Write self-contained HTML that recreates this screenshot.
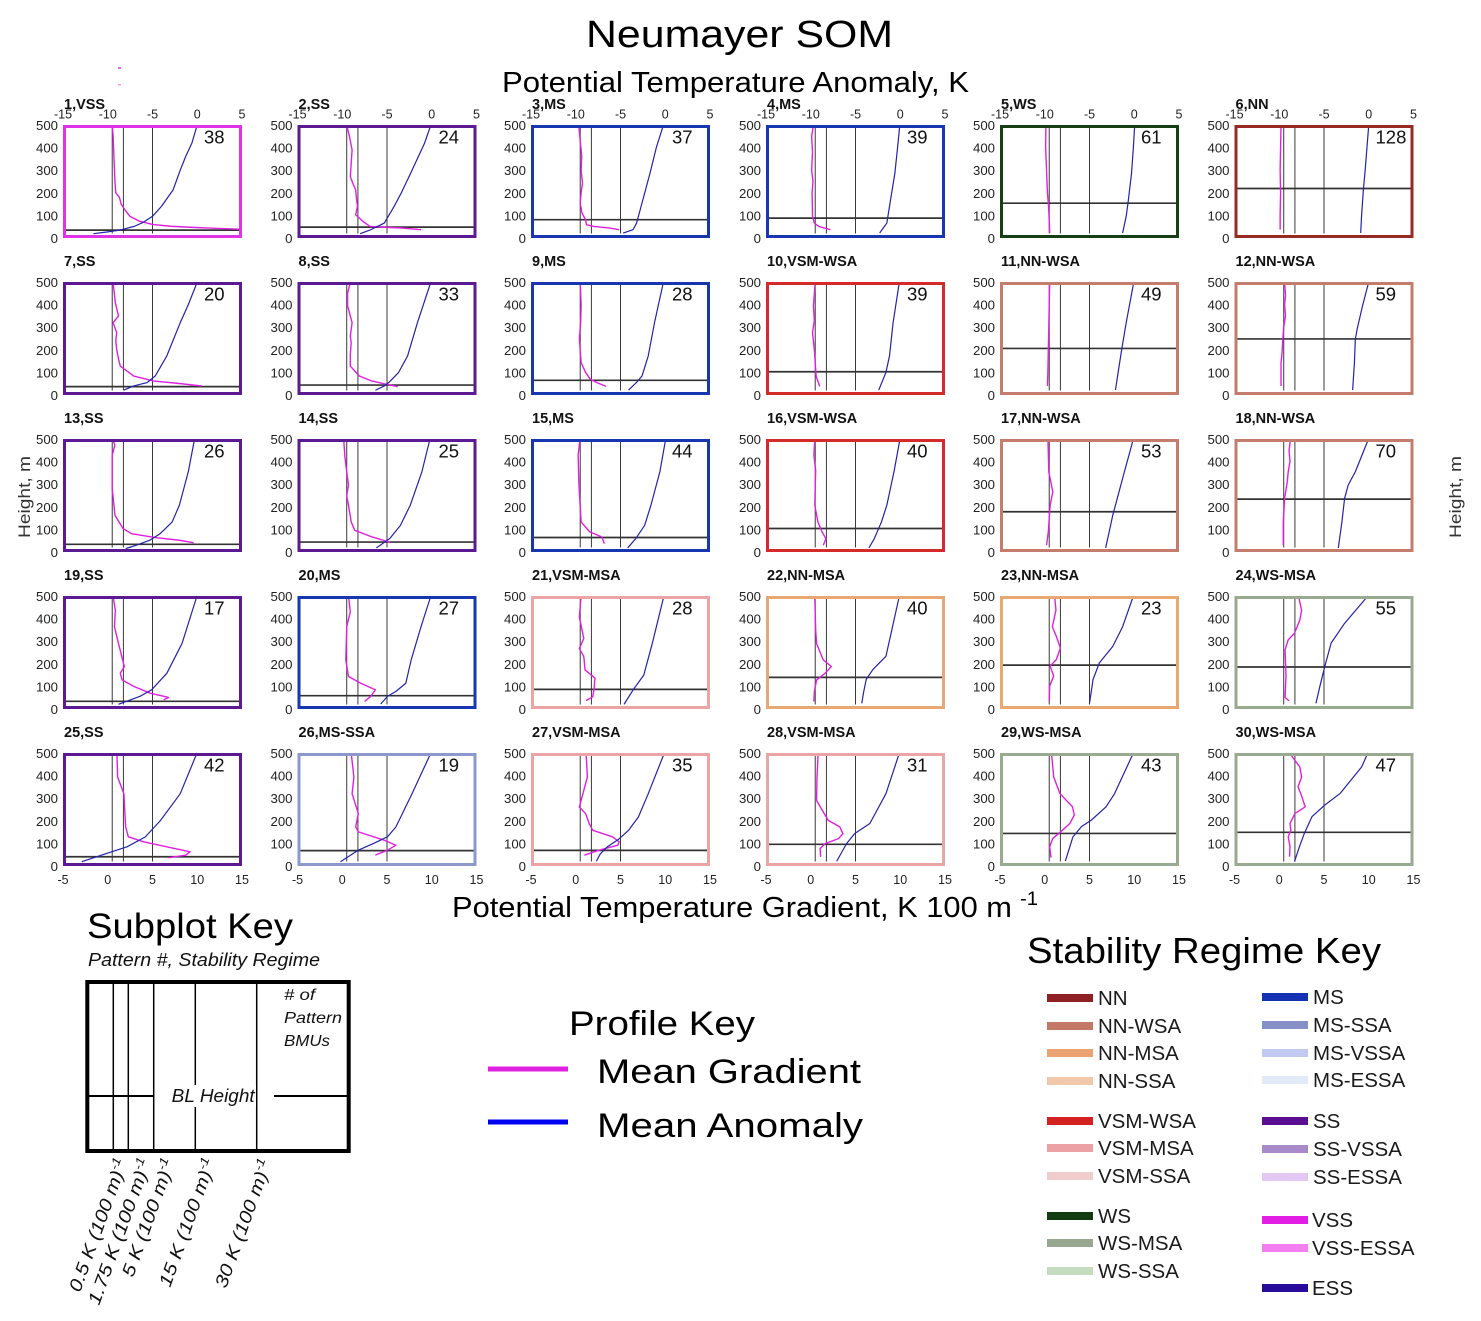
<!DOCTYPE html>
<html><head><meta charset="utf-8"><title>Neumayer SOM</title>
<style>
html,body{margin:0;padding:0;background:#fff}
svg{display:block}
text{font-family:"Liberation Sans",sans-serif}
.r{stroke:#3a3a3a;stroke-width:1;fill:none;vector-effect:non-scaling-stroke}
.k{stroke:#333;stroke-width:1.7;fill:none;vector-effect:non-scaling-stroke}
.m{stroke:#e020e0;stroke-width:1.4;fill:none;stroke-linejoin:round;vector-effect:non-scaling-stroke}
.b{stroke:#2323aa;stroke-width:1.2;fill:none;stroke-linejoin:round;vector-effect:non-scaling-stroke}
.f{fill:none;stroke-width:3}
.yt{font-size:13.2px;fill:#222;text-anchor:end}
.xt{font-size:12.5px;fill:#222;text-anchor:middle}
.t{font-size:14.5px;font-weight:bold;fill:#111}
.n{font-size:18.5px;fill:#111}
.lg{font-size:20.5px;fill:#1a1a1a}
.it{font-style:italic;fill:#111}
</style></head>
<body>
<svg width="1481" height="1321" viewBox="0 0 1481 1321" xmlns="http://www.w3.org/2000/svg">
<rect width="1481" height="1321" fill="#fff"/>

<!-- Titles -->
<text x="586" y="47" font-size="38" textLength="307" lengthAdjust="spacingAndGlyphs" fill="#000">Neumayer SOM</text>
<text x="502" y="92" font-size="29" textLength="467" lengthAdjust="spacingAndGlyphs" fill="#000">Potential Temperature Anomaly, K</text>
<rect x="118" y="67" width="3" height="2" fill="#e070e8"/>
<rect x="118" y="84" width="3" height="1.5" fill="#e9a0ee"/>

<text transform="translate(30,497) rotate(-90)" text-anchor="middle" font-size="17" fill="#333" textLength="82" lengthAdjust="spacingAndGlyphs">Height, m</text>
<text transform="translate(1461,497) rotate(-90)" text-anchor="middle" font-size="17" fill="#333" textLength="82" lengthAdjust="spacingAndGlyphs">Height, m</text>

<!-- ===== Row 0 ===== -->
<g transform="matrix(8.95 0 0 -.226 107.75 238)"><path class="r" d="M.5 20V500M1.75 20V500M5 20V500"/><path class="k" d="M-5 35H15"/>
<polyline class="m" points="0.5,500 0.6,450 0.7,350 0.8,250 0.9,200 1.3,180 1.5,150 2,120 2.5,95 3.5,75 5,60 7,52 9.5,47 12,43 14.7,39"/>
<polyline class="b" points="10,500 9.4,420 8.7,360 8.1,300 7.3,213 6,140 5,96 4,70 3,52 1.5,36 0,27 -1.6,19"/></g>
<rect class="f" x="64.5" y="126.5" width="176" height="110" stroke="#e032e6"/>

<g transform="matrix(8.95 0 0 -.226 342.25 238)"><path class="r" d="M.5 20V500M1.75 20V500M5 20V500"/><path class="k" d="M-5 48H15"/>
<polyline class="m" points="0.5,500 0.8,450 1.1,390 1.0,330 0.9,272 1.2,240 1.5,213 1.6,170 1.7,140 1.5,103 2.3,74 3.1,51 5,47 6.7,44 8.8,37"/>
<polyline class="b" points="9.9,500 9.2,420 8.5,360 7.65,287 6.6,200 5.8,140 4.7,66 3.2,37 2.0,19"/></g>
<rect class="f" x="299" y="126.5" width="176" height="110" stroke="#5b1a94"/>

<g transform="matrix(8.95 0 0 -.226 575.75 238)"><path class="r" d="M.5 20V500M1.75 20V500M5 20V500"/><path class="k" d="M-5 81H15"/>
<polyline class="m" points="0.33,500 0.5,430 0.67,360 0.6,300 0.75,243 0.6,200 0.5,154 0.7,110 1.1,81 1.2,59 2.0,51 3.8,44 4.85,37"/>
<polyline class="b" points="9.8,500 9,400 8.3,287 7.3,140 6.8,66 6.4,37 5.3,22"/></g>
<rect class="f" x="532.5" y="126.5" width="176" height="110" stroke="#1836b2"/>

<g transform="matrix(8.95 0 0 -.226 810.75 238)"><path class="r" d="M.5 20V500M1.75 20V500M5 20V500"/><path class="k" d="M-5 88H15"/>
<polyline class="m" points="0.3,500 0.1,450 0.2,380 0.1,300 0.25,250 0.15,200 0.2,96 0.4,66 0.9,51 2.2,37"/>
<polyline class="b" points="9.95,500 9.7,400 9.4,287 8.8,140 8.5,66 7.7,22"/></g>
<rect class="f" x="767.5" y="126.5" width="176" height="110" stroke="#1836b2"/>

<g transform="matrix(8.95 0 0 -.226 1044.75 238)"><path class="r" d="M.5 20V500M1.75 20V500M5 20V500"/><path class="k" d="M-5 154H15"/>
<polyline class="m" points="0.13,500 0.1,400 0.2,300 0.3,200 0.4,154 0.5,80 0.55,22"/>
<polyline class="b" points="10.05,500 9.9,400 9.7,287 9.3,154 9.1,96 8.7,22"/></g>
<rect class="f" x="1001.5" y="126.5" width="176" height="110" stroke="#173f16"/>

<g transform="matrix(8.95 0 0 -.226 1279.25 238)"><path class="r" d="M.5 20V500M1.75 20V500M5 20V500"/><path class="k" d="M-5 219H15"/>
<polyline class="m" points="0.2,500 0.15,400 0.1,300 0.15,200 0.1,100 0.1,37"/>
<polyline class="b" points="10,500 9.8,400 9.6,300 9.4,213 9.2,100 9.1,22"/></g>
<rect class="f" x="1236" y="126.5" width="176" height="110" stroke="#982a24"/>

<!-- ===== Row 1 ===== -->
<g transform="matrix(8.95 0 0 -.226 107.75 395)"><path class="r" d="M.5 20V500M1.75 20V500M5 20V500"/><path class="k" d="M-5 37H15"/>
<polyline class="m" points="0.59,500 0.85,408 1.2,350 0.6,320 1.0,276 0.9,240 1.0,202 1.2,160 1.4,128 2.9,84 5.1,62 7.7,52 10.5,40"/>
<polyline class="b" points="10,500 9,400 8.1,320 6.6,173 5.3,84 4.4,55 2.9,40 1.8,22"/></g>
<rect class="f" x="64.5" y="283.5" width="176" height="110" stroke="#5b1a94"/>

<g transform="matrix(8.95 0 0 -.226 342.25 395)"><path class="r" d="M.5 20V500M1.75 20V500M5 20V500"/><path class="k" d="M-5 44H15"/>
<polyline class="m" points="0.9,500 0.6,450 0.6,394 1.1,320 0.9,260 1.0,232 0.9,180 0.9,128 1.9,84 3.3,62 5.0,47 6.2,37"/>
<polyline class="b" points="9.9,500 8.4,320 7.3,173 6.3,100 5.2,55 4.7,40 3.7,21"/></g>
<rect class="f" x="299" y="283.5" width="176" height="110" stroke="#5b1a94"/>

<g transform="matrix(8.95 0 0 -.226 575.75 395)"><path class="r" d="M.5 20V500M1.75 20V500M5 20V500"/><path class="k" d="M-5 65H15"/>
<polyline class="m" points="0.5,500 0.6,400 0.55,320 0.4,250 0.6,143 1.1,100 1.6,71 2.3,56 3.4,38"/>
<polyline class="b" points="9.8,500 8.8,320 8.1,173 7.4,84 6.8,56 5.9,22"/></g>
<rect class="f" x="532.5" y="283.5" width="176" height="110" stroke="#1836b2"/>

<g transform="matrix(8.95 0 0 -.226 810.75 395)"><path class="r" d="M.5 20V500M1.75 20V500M5 20V500"/><path class="k" d="M-5 103H15"/>
<polyline class="m" points="0.5,500 0.3,394 0.4,330 0.2,276 0.4,200 0.45,173 0.6,84 1.0,38"/>
<polyline class="b" points="9.9,500 9.2,320 8.8,173 8.4,100 7.6,22"/></g>
<rect class="f" x="767.5" y="283.5" width="176" height="110" stroke="#d42a2a"/>

<g transform="matrix(8.95 0 0 -.226 1044.75 395)"><path class="r" d="M.5 20V500M1.75 20V500M5 20V500"/><path class="k" d="M-5 206H15"/>
<polyline class="m" points="0.55,500 0.5,400 0.45,300 0.4,200 0.35,100 0.3,40"/>
<polyline class="b" points="9.95,500 9.1,320 8.6,202 8.2,100 7.9,22"/></g>
<rect class="f" x="1001.5" y="283.5" width="176" height="110" stroke="#c47c6c"/>

<g transform="matrix(8.95 0 0 -.226 1279.25 395)"><path class="r" d="M.5 20V500M1.75 20V500M5 20V500"/><path class="k" d="M-5 248H15"/>
<polyline class="m" points="0.6,500 0.7,440 0.6,400 0.7,350 0.5,300 0.4,247 0.3,180 0.2,143 0.2,40"/>
<polyline class="b" points="10,500 9.3,394 8.7,291 8.5,247 8.4,143 8.2,22"/></g>
<rect class="f" x="1236" y="283.5" width="176" height="110" stroke="#c47c6c"/>

<!-- ===== Row 2 ===== -->
<g transform="matrix(8.95 0 0 -.226 107.75 552)"><path class="r" d="M.5 20V500M1.75 20V500M5 20V500"/><path class="k" d="M-5 34H15"/>
<polyline class="m" points="0.53,500 0.8,473 0.5,429 0.5,281 0.8,163 1.7,104 2.66,81 5.3,64 8,52 9.6,41"/>
<polyline class="b" points="9.7,500 9.0,355 8,207 7.2,133 5.85,81 4.7,52 3.2,30 2.0,15"/></g>
<rect class="f" x="64.5" y="440.5" width="176" height="110" stroke="#5b1a94"/>

<g transform="matrix(8.95 0 0 -.226 342.25 552)"><path class="r" d="M.5 20V500M1.75 20V500M5 20V500"/><path class="k" d="M-5 44H15"/>
<polyline class="m" points="0.16,500 0.3,420 0.5,355 0.7,296 0.5,250 0.7,207 1.0,133 1.4,96 3.3,67 4.6,52 5.4,41"/>
<polyline class="b" points="9.8,500 8.9,355 7.6,207 6.5,118 5.3,59 3.8,18"/></g>
<rect class="f" x="299" y="440.5" width="176" height="110" stroke="#5b1a94"/>

<g transform="matrix(8.95 0 0 -.226 575.75 552)"><path class="r" d="M.5 20V500M1.75 20V500M5 20V500"/><path class="k" d="M-5 64H15"/>
<polyline class="m" points="0.48,500 0.27,429 0.35,300 0.6,133 1.56,89 2.9,67 3.2,37"/>
<polyline class="b" points="10.05,500 9.4,355 8.4,207 7.7,118 6.7,59 5.8,18"/></g>
<rect class="f" x="532.5" y="440.5" width="176" height="110" stroke="#1836b2"/>

<g transform="matrix(8.95 0 0 -.226 810.75 552)"><path class="r" d="M.5 20V500M1.75 20V500M5 20V500"/><path class="k" d="M-5 104H15"/>
<polyline class="m" points="0.45,500 0.35,429 0.55,360 0.45,207 0.8,133 1.26,89 1.7,59 1.4,30"/>
<polyline class="b" points="9.97,500 9.3,355 8.5,207 7.9,133 7.1,59 6.5,18"/></g>
<rect class="f" x="767.5" y="440.5" width="176" height="110" stroke="#d42a2a"/>

<g transform="matrix(8.95 0 0 -.226 1044.75 552)"><path class="r" d="M.5 20V500M1.75 20V500M5 20V500"/><path class="k" d="M-5 178H15"/>
<polyline class="m" points="0.36,500 0.45,355 0.9,266 0.6,207 0.4,90 0.2,30"/>
<polyline class="b" points="9.9,500 8.9,355 8.1,237 7.6,163 7.2,89 6.8,18"/></g>
<rect class="f" x="1001.5" y="440.5" width="176" height="110" stroke="#c47c6c"/>

<g transform="matrix(8.95 0 0 -.226 1279.25 552)"><path class="r" d="M.5 20V500M1.75 20V500M5 20V500"/><path class="k" d="M-5 234H15"/>
<polyline class="m" points="1.26,500 1.1,450 1.2,400 1.0,355 0.9,311 0.6,237 0.45,133 0.45,30"/>
<polyline class="b" points="9.97,500 8.5,355 7.7,296 7.3,237 7.0,133 6.6,18"/></g>
<rect class="f" x="1236" y="440.5" width="176" height="110" stroke="#c47c6c"/>

<!-- ===== Row 3 ===== -->
<g transform="matrix(8.95 0 0 -.226 107.75 709)"><path class="r" d="M.5 20V500M1.75 20V500M5 20V500"/><path class="k" d="M-5 34H15"/>
<polyline class="m" points="0.59,500 0.85,437 0.75,364 1.2,290 1.85,188 1.4,158 1.6,129 2.9,100 4.75,70 6.8,51 6.25,41"/>
<polyline class="b" points="9.97,500 8.3,290 6.6,158 4.9,85 3.6,56 1.2,21"/></g>
<rect class="f" x="64.5" y="597.5" width="176" height="110" stroke="#5b1a94"/>

<g transform="matrix(8.95 0 0 -.226 342.25 709)"><path class="r" d="M.5 20V500M1.75 20V500M5 20V500"/><path class="k" d="M-5 59H15"/>
<polyline class="m" points="0.7,500 0.9,430 0.5,364 0.4,217 0.7,144 2.06,114 3.7,85 3.2,56 2.5,34"/>
<polyline class="b" points="9.9,500 8.8,364 7.7,217 7.1,114 6.0,78 5.05,56 4.3,22"/></g>
<rect class="f" x="299" y="597.5" width="176" height="110" stroke="#1836b2"/>

<g transform="matrix(8.95 0 0 -.226 575.75 709)"><path class="r" d="M.5 20V500M1.75 20V500M5 20V500"/><path class="k" d="M-5 87H15"/>
<polyline class="m" points="0.6,500 0.4,407 0.9,312 0.4,268 0.9,232 1.04,173 2.15,137 2.05,91 1.9,54 1.15,37"/>
<polyline class="b" points="9.85,500 8.55,290 7.6,150 6.4,84 5.4,21"/></g>
<rect class="f" x="532.5" y="597.5" width="176" height="110" stroke="#eca4a4"/>

<g transform="matrix(8.95 0 0 -.226 810.75 709)"><path class="r" d="M.5 20V500M1.75 20V500M5 20V500"/><path class="k" d="M-5 140H15"/>
<polyline class="m" points="0.45,500 0.55,350 0.65,290 1.4,217 2.3,188 1.6,158 0.65,128 0.4,77 0.35,33"/>
<polyline class="b" points="9.9,500 8.4,233 6.95,175 6.2,131 5.9,73 5.7,25"/></g>
<rect class="f" x="767.5" y="597.5" width="176" height="110" stroke="#e9a872"/>

<g transform="matrix(8.95 0 0 -.226 1044.75 709)"><path class="r" d="M.5 20V500M1.75 20V500M5 20V500"/><path class="k" d="M-5 194H15"/>
<polyline class="m" points="1.1,500 1.25,437 0.85,364 1.3,321 1.75,270 1.3,219 0.6,190 1.0,146 0.55,102 0.5,36"/>
<polyline class="b" points="9.9,500 8.7,364 7.6,277 6.1,204 5.4,131 5.0,25"/></g>
<rect class="f" x="1001.5" y="597.5" width="176" height="110" stroke="#e9a872"/>

<g transform="matrix(8.95 0 0 -.226 1279.25 709)"><path class="r" d="M.5 20V500M1.75 20V500M5 20V500"/><path class="k" d="M-5 186H15"/>
<polyline class="m" points="2.15,500 2.5,437 2.3,394 1.7,335 1.0,306 0.65,262 0.75,146 0.65,51 1.1,36"/>
<polyline class="b" points="9.9,500 7.3,379 5.8,292 5.1,190 4.55,102 4.1,25"/></g>
<rect class="f" x="1236" y="597.5" width="176" height="110" stroke="#98aa90"/>

<!-- ===== Row 4 ===== -->
<g transform="matrix(8.95 0 0 -.226 107.75 866)"><path class="r" d="M.5 20V500M1.75 20V500M5 20V500"/><path class="k" d="M-5 41H15"/>
<polyline class="m" points="1.03,500 1.1,394 1.8,320 2.0,173 2.3,129 4.0,107 6.6,85 9.2,63 8.7,48 6.8,37"/>
<polyline class="b" points="9.97,500 8.1,320 5.9,202 4.2,129 2.15,85 -0.08,56 -2.9,19"/></g>
<rect class="f" x="64.5" y="754.5" width="176" height="110" stroke="#5b1a94"/>

<g transform="matrix(8.95 0 0 -.226 342.25 866)"><path class="r" d="M.5 20V500M1.75 20V500M5 20V500"/><path class="k" d="M-5 68H15"/>
<polyline class="m" points="1.0,500 1.3,394 1.1,320 1.8,232 1.5,173 1.8,151 4.7,114 6.0,92 5.05,70 3.7,48"/>
<polyline class="b" points="9.9,500 7.8,320 6.0,173 5.05,129 3.5,100 1.8,70 -0.2,19"/></g>
<rect class="f" x="299" y="754.5" width="176" height="110" stroke="#8c98cc"/>

<g transform="matrix(8.95 0 0 -.226 575.75 866)"><path class="r" d="M.5 20V500M1.75 20V500M5 20V500"/><path class="k" d="M-5 69H15"/>
<polyline class="m" points="1.15,500 1.3,394 0.8,320 0.4,261 1.1,232 1.5,188 1.9,158 4.1,129 4.85,107 4.7,92 2.6,70 0.96,48"/>
<polyline class="b" points="9.9,500 8.1,320 7.0,217 5.9,158 4.75,117 3.5,84 2.75,54 2.3,21"/></g>
<rect class="f" x="532.5" y="754.5" width="176" height="110" stroke="#eca4a4"/>

<g transform="matrix(8.95 0 0 -.226 810.75 866)"><path class="r" d="M.5 20V500M1.75 20V500M5 20V500"/><path class="k" d="M-5 96H15"/>
<polyline class="m" points="0.83,500 0.7,394 0.65,290 1.95,202 3.25,173 3.6,143 3.1,121 1.6,99 1.05,77 1.1,40"/>
<polyline class="b" points="9.9,500 8.4,320 6.6,188 4.9,143 4.0,99 2.9,21"/></g>
<rect class="f" x="767.5" y="754.5" width="176" height="110" stroke="#eca4a4"/>

<g transform="matrix(8.95 0 0 -.226 1044.75 866)"><path class="r" d="M.5 20V500M1.75 20V500M5 20V500"/><path class="k" d="M-5 144H15"/>
<polyline class="m" points="0.75,500 1.0,394 1.7,320 3.1,262 3.3,225 2.8,188 2.0,159 0.9,122 0.55,85 0.7,37"/>
<polyline class="b" points="9.9,500 7.8,320 6.85,262 5.2,203 4.1,174 3.15,129 2.8,85 2.3,22"/></g>
<rect class="f" x="1001.5" y="754.5" width="176" height="110" stroke="#98aa90"/>

<g transform="matrix(8.95 0 0 -.226 1279.25 866)"><path class="r" d="M.5 20V500M1.75 20V500M5 20V500"/><path class="k" d="M-5 149H15"/>
<polyline class="m" points="1.15,500 2.3,438 2.5,394 2.1,350 2.4,321 2.9,262 1.75,232 1.2,188 1.3,159 1.0,129 1.2,85 1.15,41"/>
<polyline class="b" points="9.9,500 9.2,438 6.8,321 5.1,270 3.65,218 2.8,144 2.25,85 1.7,19"/></g>
<rect class="f" x="1236" y="754.5" width="176" height="110" stroke="#98aa90"/>

<!-- ===== Subplot titles ===== -->
<text class="t" x="64" y="109">1,VSS</text>
<text class="t" x="298.5" y="109">2,SS</text>
<text class="t" x="532" y="109">3,MS</text>
<text class="t" x="767" y="109">4,MS</text>
<text class="t" x="1001" y="109">5,WS</text>
<text class="t" x="1235.5" y="109">6,NN</text>
<text class="t" x="64" y="266">7,SS</text>
<text class="t" x="298.5" y="266">8,SS</text>
<text class="t" x="532" y="266">9,MS</text>
<text class="t" x="767" y="266">10,VSM-WSA</text>
<text class="t" x="1001" y="266">11,NN-WSA</text>
<text class="t" x="1235.5" y="266">12,NN-WSA</text>
<text class="t" x="64" y="423">13,SS</text>
<text class="t" x="298.5" y="423">14,SS</text>
<text class="t" x="532" y="423">15,MS</text>
<text class="t" x="767" y="423">16,VSM-WSA</text>
<text class="t" x="1001" y="423">17,NN-WSA</text>
<text class="t" x="1235.5" y="423">18,NN-WSA</text>
<text class="t" x="64" y="580">19,SS</text>
<text class="t" x="298.5" y="580">20,MS</text>
<text class="t" x="532" y="580">21,VSM-MSA</text>
<text class="t" x="767" y="580">22,NN-MSA</text>
<text class="t" x="1001" y="580">23,NN-MSA</text>
<text class="t" x="1235.5" y="580">24,WS-MSA</text>
<text class="t" x="64" y="737">25,SS</text>
<text class="t" x="298.5" y="737">26,MS-SSA</text>
<text class="t" x="532" y="737">27,VSM-MSA</text>
<text class="t" x="767" y="737">28,VSM-MSA</text>
<text class="t" x="1001" y="737">29,WS-MSA</text>
<text class="t" x="1235.5" y="737">30,WS-MSA</text>

<!-- ===== Counts ===== -->
<text class="n" x="204" y="143.5">38</text>
<text class="n" x="438.5" y="143.5">24</text>
<text class="n" x="672" y="143.5">37</text>
<text class="n" x="907" y="143.5">39</text>
<text class="n" x="1141" y="143.5">61</text>
<text class="n" x="1375.5" y="143.5">128</text>
<text class="n" x="204" y="300.5">20</text>
<text class="n" x="438.5" y="300.5">33</text>
<text class="n" x="672" y="300.5">28</text>
<text class="n" x="907" y="300.5">39</text>
<text class="n" x="1141" y="300.5">49</text>
<text class="n" x="1375.5" y="300.5">59</text>
<text class="n" x="204" y="457.5">26</text>
<text class="n" x="438.5" y="457.5">25</text>
<text class="n" x="672" y="457.5">44</text>
<text class="n" x="907" y="457.5">40</text>
<text class="n" x="1141" y="457.5">53</text>
<text class="n" x="1375.5" y="457.5">70</text>
<text class="n" x="204" y="614.5">17</text>
<text class="n" x="438.5" y="614.5">27</text>
<text class="n" x="672" y="614.5">28</text>
<text class="n" x="907" y="614.5">40</text>
<text class="n" x="1141" y="614.5">23</text>
<text class="n" x="1375.5" y="614.5">55</text>
<text class="n" x="204" y="771.5">42</text>
<text class="n" x="438.5" y="771.5">19</text>
<text class="n" x="672" y="771.5">35</text>
<text class="n" x="907" y="771.5">31</text>
<text class="n" x="1141" y="771.5">43</text>
<text class="n" x="1375.5" y="771.5">47</text>

<!-- ===== Top axis ticks (row 0) ===== -->
<text class="xt"><tspan x="63" y="118.5">-15</tspan><tspan x="107.75" y="118.5">-10</tspan><tspan x="152.5" y="118.5">-5</tspan><tspan x="197.25" y="118.5">0</tspan><tspan x="242" y="118.5">5</tspan></text>
<text class="xt"><tspan x="297.5" y="118.5">-15</tspan><tspan x="342.25" y="118.5">-10</tspan><tspan x="387" y="118.5">-5</tspan><tspan x="431.75" y="118.5">0</tspan><tspan x="476.5" y="118.5">5</tspan></text>
<text class="xt"><tspan x="531" y="118.5">-15</tspan><tspan x="575.75" y="118.5">-10</tspan><tspan x="620.5" y="118.5">-5</tspan><tspan x="665.25" y="118.5">0</tspan><tspan x="710" y="118.5">5</tspan></text>
<text class="xt"><tspan x="766" y="118.5">-15</tspan><tspan x="810.75" y="118.5">-10</tspan><tspan x="855.5" y="118.5">-5</tspan><tspan x="900.25" y="118.5">0</tspan><tspan x="945" y="118.5">5</tspan></text>
<text class="xt"><tspan x="1000" y="118.5">-15</tspan><tspan x="1044.75" y="118.5">-10</tspan><tspan x="1089.5" y="118.5">-5</tspan><tspan x="1134.25" y="118.5">0</tspan><tspan x="1179" y="118.5">5</tspan></text>
<text class="xt"><tspan x="1234.5" y="118.5">-15</tspan><tspan x="1279.25" y="118.5">-10</tspan><tspan x="1324" y="118.5">-5</tspan><tspan x="1368.75" y="118.5">0</tspan><tspan x="1413.5" y="118.5">5</tspan></text>

<!-- ===== Bottom axis ticks (row 4) ===== -->
<text class="xt"><tspan x="63" y="884">-5</tspan><tspan x="107.75" y="884">0</tspan><tspan x="152.5" y="884">5</tspan><tspan x="197.25" y="884">10</tspan><tspan x="242" y="884">15</tspan></text>
<text class="xt"><tspan x="297.5" y="884">-5</tspan><tspan x="342.25" y="884">0</tspan><tspan x="387" y="884">5</tspan><tspan x="431.75" y="884">10</tspan><tspan x="476.5" y="884">15</tspan></text>
<text class="xt"><tspan x="531" y="884">-5</tspan><tspan x="575.75" y="884">0</tspan><tspan x="620.5" y="884">5</tspan><tspan x="665.25" y="884">10</tspan><tspan x="710" y="884">15</tspan></text>
<text class="xt"><tspan x="766" y="884">-5</tspan><tspan x="810.75" y="884">0</tspan><tspan x="855.5" y="884">5</tspan><tspan x="900.25" y="884">10</tspan><tspan x="945" y="884">15</tspan></text>
<text class="xt"><tspan x="1000" y="884">-5</tspan><tspan x="1044.75" y="884">0</tspan><tspan x="1089.5" y="884">5</tspan><tspan x="1134.25" y="884">10</tspan><tspan x="1179" y="884">15</tspan></text>
<text class="xt"><tspan x="1234.5" y="884">-5</tspan><tspan x="1279.25" y="884">0</tspan><tspan x="1324" y="884">5</tspan><tspan x="1368.75" y="884">10</tspan><tspan x="1413.5" y="884">15</tspan></text>

<!-- ===== Y ticks ===== -->
<text class="yt"><tspan x="58" y="130">500</tspan><tspan x="58" y="152.6">400</tspan><tspan x="58" y="175.2">300</tspan><tspan x="58" y="197.8">200</tspan><tspan x="58" y="220.4">100</tspan><tspan x="58" y="243">0</tspan></text>
<text class="yt"><tspan x="292.5" y="130">500</tspan><tspan x="292.5" y="152.6">400</tspan><tspan x="292.5" y="175.2">300</tspan><tspan x="292.5" y="197.8">200</tspan><tspan x="292.5" y="220.4">100</tspan><tspan x="292.5" y="243">0</tspan></text>
<text class="yt"><tspan x="526" y="130">500</tspan><tspan x="526" y="152.6">400</tspan><tspan x="526" y="175.2">300</tspan><tspan x="526" y="197.8">200</tspan><tspan x="526" y="220.4">100</tspan><tspan x="526" y="243">0</tspan></text>
<text class="yt"><tspan x="761" y="130">500</tspan><tspan x="761" y="152.6">400</tspan><tspan x="761" y="175.2">300</tspan><tspan x="761" y="197.8">200</tspan><tspan x="761" y="220.4">100</tspan><tspan x="761" y="243">0</tspan></text>
<text class="yt"><tspan x="995" y="130">500</tspan><tspan x="995" y="152.6">400</tspan><tspan x="995" y="175.2">300</tspan><tspan x="995" y="197.8">200</tspan><tspan x="995" y="220.4">100</tspan><tspan x="995" y="243">0</tspan></text>
<text class="yt"><tspan x="1229.5" y="130">500</tspan><tspan x="1229.5" y="152.6">400</tspan><tspan x="1229.5" y="175.2">300</tspan><tspan x="1229.5" y="197.8">200</tspan><tspan x="1229.5" y="220.4">100</tspan><tspan x="1229.5" y="243">0</tspan></text>

<text class="yt"><tspan x="58" y="287">500</tspan><tspan x="58" y="309.6">400</tspan><tspan x="58" y="332.2">300</tspan><tspan x="58" y="354.8">200</tspan><tspan x="58" y="377.4">100</tspan><tspan x="58" y="400">0</tspan></text>
<text class="yt"><tspan x="292.5" y="287">500</tspan><tspan x="292.5" y="309.6">400</tspan><tspan x="292.5" y="332.2">300</tspan><tspan x="292.5" y="354.8">200</tspan><tspan x="292.5" y="377.4">100</tspan><tspan x="292.5" y="400">0</tspan></text>
<text class="yt"><tspan x="526" y="287">500</tspan><tspan x="526" y="309.6">400</tspan><tspan x="526" y="332.2">300</tspan><tspan x="526" y="354.8">200</tspan><tspan x="526" y="377.4">100</tspan><tspan x="526" y="400">0</tspan></text>
<text class="yt"><tspan x="761" y="287">500</tspan><tspan x="761" y="309.6">400</tspan><tspan x="761" y="332.2">300</tspan><tspan x="761" y="354.8">200</tspan><tspan x="761" y="377.4">100</tspan><tspan x="761" y="400">0</tspan></text>
<text class="yt"><tspan x="995" y="287">500</tspan><tspan x="995" y="309.6">400</tspan><tspan x="995" y="332.2">300</tspan><tspan x="995" y="354.8">200</tspan><tspan x="995" y="377.4">100</tspan><tspan x="995" y="400">0</tspan></text>
<text class="yt"><tspan x="1229.5" y="287">500</tspan><tspan x="1229.5" y="309.6">400</tspan><tspan x="1229.5" y="332.2">300</tspan><tspan x="1229.5" y="354.8">200</tspan><tspan x="1229.5" y="377.4">100</tspan><tspan x="1229.5" y="400">0</tspan></text>

<text class="yt"><tspan x="58" y="444">500</tspan><tspan x="58" y="466.6">400</tspan><tspan x="58" y="489.2">300</tspan><tspan x="58" y="511.8">200</tspan><tspan x="58" y="534.4">100</tspan><tspan x="58" y="557">0</tspan></text>
<text class="yt"><tspan x="292.5" y="444">500</tspan><tspan x="292.5" y="466.6">400</tspan><tspan x="292.5" y="489.2">300</tspan><tspan x="292.5" y="511.8">200</tspan><tspan x="292.5" y="534.4">100</tspan><tspan x="292.5" y="557">0</tspan></text>
<text class="yt"><tspan x="526" y="444">500</tspan><tspan x="526" y="466.6">400</tspan><tspan x="526" y="489.2">300</tspan><tspan x="526" y="511.8">200</tspan><tspan x="526" y="534.4">100</tspan><tspan x="526" y="557">0</tspan></text>
<text class="yt"><tspan x="761" y="444">500</tspan><tspan x="761" y="466.6">400</tspan><tspan x="761" y="489.2">300</tspan><tspan x="761" y="511.8">200</tspan><tspan x="761" y="534.4">100</tspan><tspan x="761" y="557">0</tspan></text>
<text class="yt"><tspan x="995" y="444">500</tspan><tspan x="995" y="466.6">400</tspan><tspan x="995" y="489.2">300</tspan><tspan x="995" y="511.8">200</tspan><tspan x="995" y="534.4">100</tspan><tspan x="995" y="557">0</tspan></text>
<text class="yt"><tspan x="1229.5" y="444">500</tspan><tspan x="1229.5" y="466.6">400</tspan><tspan x="1229.5" y="489.2">300</tspan><tspan x="1229.5" y="511.8">200</tspan><tspan x="1229.5" y="534.4">100</tspan><tspan x="1229.5" y="557">0</tspan></text>

<text class="yt"><tspan x="58" y="601">500</tspan><tspan x="58" y="623.6">400</tspan><tspan x="58" y="646.2">300</tspan><tspan x="58" y="668.8">200</tspan><tspan x="58" y="691.4">100</tspan><tspan x="58" y="714">0</tspan></text>
<text class="yt"><tspan x="292.5" y="601">500</tspan><tspan x="292.5" y="623.6">400</tspan><tspan x="292.5" y="646.2">300</tspan><tspan x="292.5" y="668.8">200</tspan><tspan x="292.5" y="691.4">100</tspan><tspan x="292.5" y="714">0</tspan></text>
<text class="yt"><tspan x="526" y="601">500</tspan><tspan x="526" y="623.6">400</tspan><tspan x="526" y="646.2">300</tspan><tspan x="526" y="668.8">200</tspan><tspan x="526" y="691.4">100</tspan><tspan x="526" y="714">0</tspan></text>
<text class="yt"><tspan x="761" y="601">500</tspan><tspan x="761" y="623.6">400</tspan><tspan x="761" y="646.2">300</tspan><tspan x="761" y="668.8">200</tspan><tspan x="761" y="691.4">100</tspan><tspan x="761" y="714">0</tspan></text>
<text class="yt"><tspan x="995" y="601">500</tspan><tspan x="995" y="623.6">400</tspan><tspan x="995" y="646.2">300</tspan><tspan x="995" y="668.8">200</tspan><tspan x="995" y="691.4">100</tspan><tspan x="995" y="714">0</tspan></text>
<text class="yt"><tspan x="1229.5" y="601">500</tspan><tspan x="1229.5" y="623.6">400</tspan><tspan x="1229.5" y="646.2">300</tspan><tspan x="1229.5" y="668.8">200</tspan><tspan x="1229.5" y="691.4">100</tspan><tspan x="1229.5" y="714">0</tspan></text>

<text class="yt"><tspan x="58" y="758">500</tspan><tspan x="58" y="780.6">400</tspan><tspan x="58" y="803.2">300</tspan><tspan x="58" y="825.8">200</tspan><tspan x="58" y="848.4">100</tspan><tspan x="58" y="871">0</tspan></text>
<text class="yt"><tspan x="292.5" y="758">500</tspan><tspan x="292.5" y="780.6">400</tspan><tspan x="292.5" y="803.2">300</tspan><tspan x="292.5" y="825.8">200</tspan><tspan x="292.5" y="848.4">100</tspan><tspan x="292.5" y="871">0</tspan></text>
<text class="yt"><tspan x="526" y="758">500</tspan><tspan x="526" y="780.6">400</tspan><tspan x="526" y="803.2">300</tspan><tspan x="526" y="825.8">200</tspan><tspan x="526" y="848.4">100</tspan><tspan x="526" y="871">0</tspan></text>
<text class="yt"><tspan x="761" y="758">500</tspan><tspan x="761" y="780.6">400</tspan><tspan x="761" y="803.2">300</tspan><tspan x="761" y="825.8">200</tspan><tspan x="761" y="848.4">100</tspan><tspan x="761" y="871">0</tspan></text>
<text class="yt"><tspan x="995" y="758">500</tspan><tspan x="995" y="780.6">400</tspan><tspan x="995" y="803.2">300</tspan><tspan x="995" y="825.8">200</tspan><tspan x="995" y="848.4">100</tspan><tspan x="995" y="871">0</tspan></text>
<text class="yt"><tspan x="1229.5" y="758">500</tspan><tspan x="1229.5" y="780.6">400</tspan><tspan x="1229.5" y="803.2">300</tspan><tspan x="1229.5" y="825.8">200</tspan><tspan x="1229.5" y="848.4">100</tspan><tspan x="1229.5" y="871">0</tspan></text>

<!-- X axis title -->
<text x="452" y="917" font-size="29" textLength="560" lengthAdjust="spacingAndGlyphs" fill="#000">Potential Temperature Gradient, K 100 m</text>
<text x="1020" y="905" font-size="19" textLength="18" lengthAdjust="spacingAndGlyphs" fill="#000">-1</text>

<!-- ===== Subplot Key ===== -->
<text x="87" y="938" font-size="35" textLength="206" lengthAdjust="spacingAndGlyphs" fill="#000">Subplot Key</text>
<text class="it" x="88" y="966" font-size="18" textLength="232" lengthAdjust="spacingAndGlyphs">Pattern #, Stability Regime</text>
<rect x="87.3" y="982" width="261.4" height="169" fill="none" stroke="#000" stroke-width="4"/>
<path d="M113.3 982V1151M128.3 982V1151M153.7 982V1151M195.3 982V1151M256.7 982V1151" stroke="#000" stroke-width="1.5" fill="none"/>
<path d="M87 1096H153.7M274 1096H349" stroke="#000" stroke-width="2" fill="none"/>
<rect x="170" y="1085" width="86" height="22" fill="#fff"/>
<text class="it" x="171.7" y="1102" font-size="18" textLength="83" lengthAdjust="spacingAndGlyphs">BL Height</text>
<text class="it" x="284" y="1000" font-size="16" textLength="31" lengthAdjust="spacingAndGlyphs"># of</text>
<text class="it" x="284" y="1023" font-size="16" textLength="58" lengthAdjust="spacingAndGlyphs">Pattern</text>
<text class="it" x="284" y="1046" font-size="16" textLength="46" lengthAdjust="spacingAndGlyphs">BMUs</text>

<text class="it" transform="translate(80,1293) rotate(-70)" font-size="18" textLength="140" lengthAdjust="spacingAndGlyphs">0.5 K (100 m)<tspan dy="-7" font-size="12">-1</tspan></text>
<text class="it" transform="translate(99,1306) rotate(-70)" font-size="18" textLength="154" lengthAdjust="spacingAndGlyphs">1.75 K (100 m)<tspan dy="-7" font-size="12">-1</tspan></text>
<text class="it" transform="translate(133,1278) rotate(-70)" font-size="18" textLength="124" lengthAdjust="spacingAndGlyphs">5 K (100 m)<tspan dy="-7" font-size="12">-1</tspan></text>
<text class="it" transform="translate(170,1288) rotate(-70)" font-size="18" textLength="135" lengthAdjust="spacingAndGlyphs">15 K (100 m)<tspan dy="-7" font-size="12">-1</tspan></text>
<text class="it" transform="translate(226,1289) rotate(-70)" font-size="18" textLength="135" lengthAdjust="spacingAndGlyphs">30 K (100 m)<tspan dy="-7" font-size="12">-1</tspan></text>

<!-- ===== Profile Key ===== -->
<text x="569" y="1035" font-size="34" textLength="186" lengthAdjust="spacingAndGlyphs" fill="#000">Profile Key</text>
<path d="M488 1069H568" stroke="#e020e0" stroke-width="5"/>
<path d="M488 1122H568" stroke="#0000f0" stroke-width="5"/>
<text x="597" y="1083" font-size="34" textLength="264" lengthAdjust="spacingAndGlyphs" fill="#000">Mean Gradient</text>
<text x="597" y="1137" font-size="34" textLength="266" lengthAdjust="spacingAndGlyphs" fill="#000">Mean Anomaly</text>

<!-- ===== Stability Regime Key ===== -->
<text x="1027" y="963" font-size="36" textLength="354" lengthAdjust="spacingAndGlyphs" fill="#000">Stability Regime Key</text>

<rect x="1047" y="994" width="46" height="8" fill="#8e2026"/>
<rect x="1047" y="1022" width="46" height="8" fill="#c47868"/>
<rect x="1047" y="1049" width="46" height="8" fill="#eaa474"/>
<rect x="1047" y="1077" width="46" height="8" fill="#f2c8aa"/>
<rect x="1047" y="1117" width="46" height="8" fill="#d42222"/>
<rect x="1047" y="1144" width="46" height="8" fill="#eca2a4"/>
<rect x="1047" y="1172" width="46" height="8" fill="#f0cccc"/>
<rect x="1047" y="1212" width="46" height="8" fill="#123d10"/>
<rect x="1047" y="1239" width="46" height="8" fill="#98a890"/>
<rect x="1047" y="1267" width="46" height="8" fill="#c6dcc0"/>

<rect x="1262" y="993" width="46" height="8" fill="#1532b4"/>
<rect x="1262" y="1021" width="46" height="8" fill="#8890c8"/>
<rect x="1262" y="1049" width="46" height="8" fill="#c2caf2"/>
<rect x="1262" y="1076" width="46" height="8" fill="#e2eaf8"/>
<rect x="1262" y="1117" width="46" height="8" fill="#5a0e92"/>
<rect x="1262" y="1145" width="46" height="8" fill="#a88ac8"/>
<rect x="1262" y="1173" width="46" height="8" fill="#e2c8f2"/>
<rect x="1262" y="1216" width="46" height="8" fill="#e21ee4"/>
<rect x="1262" y="1244" width="46" height="8" fill="#f27ef0"/>
<rect x="1262" y="1284" width="46" height="8" fill="#2a0c9a"/>

<text class="lg" x="1098" y="1005">NN</text>
<text class="lg" x="1098" y="1033">NN-WSA</text>
<text class="lg" x="1098" y="1060">NN-MSA</text>
<text class="lg" x="1098" y="1088">NN-SSA</text>
<text class="lg" x="1098" y="1128">VSM-WSA</text>
<text class="lg" x="1098" y="1155">VSM-MSA</text>
<text class="lg" x="1098" y="1183">VSM-SSA</text>
<text class="lg" x="1098" y="1223">WS</text>
<text class="lg" x="1098" y="1250">WS-MSA</text>
<text class="lg" x="1098" y="1278">WS-SSA</text>

<text class="lg" x="1313" y="1004">MS</text>
<text class="lg" x="1313" y="1032">MS-SSA</text>
<text class="lg" x="1313" y="1060">MS-VSSA</text>
<text class="lg" x="1313" y="1087">MS-ESSA</text>
<text class="lg" x="1313" y="1128">SS</text>
<text class="lg" x="1313" y="1156">SS-VSSA</text>
<text class="lg" x="1313" y="1184">SS-ESSA</text>
<text class="lg" x="1312" y="1227">VSS</text>
<text class="lg" x="1312" y="1255">VSS-ESSA</text>
<text class="lg" x="1312" y="1295">ESS</text>
</svg>
</body></html>
